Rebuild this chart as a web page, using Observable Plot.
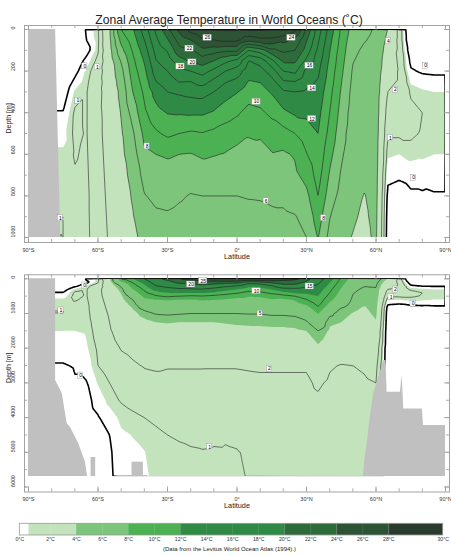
<!DOCTYPE html>
<html><head><meta charset="utf-8">
<script src="https://cdn.jsdelivr.net/npm/d3@7"></script>
<script src="https://cdn.jsdelivr.net/npm/@observablehq/plot@0.6"></script>
<style>
body{margin:0;background:#fff;font-family:"Liberation Sans",Arial,sans-serif;}
#chart{width:451px;height:556px;position:relative;overflow:hidden;background:#fff}
#chart svg{display:block}
</style></head><body><div id="chart"></div>
<script>
// ---------- data ----------
const depthLevels = [0,50,100,150,200,250,300,400,500,600,700,800,900,1000,1250,1500,2000,2500,3000,3500,4000,4500,5000,5700];
const latitudes = [-90,-85,-80,-75,-70,-65,-60,-55,-50,-45,-40,-35,-30,-25,-20,-15,-10,-5,0,5,10,15,20,25,30,35,40,45,50,55,60,65,70,75,80,85,90];

// temperature profiles (deg C) for each latitude, one value per depth level
const s90 = [-1.8,-1.8,-1.7,-1.5,-1.2,-0.8,-0.5,0.05,0.4,0.7,0.85,0.95,1.0,1.0,0.9,0.6,0.3,-0.05,-0.3,-0.4,-0.4,-0.4,-0.4,-0.4];
const s85 = [-1.8,-1.8,-1.7,-1.5,-1.2,-0.8,-0.5,0.05,0.4,0.7,0.85,0.95,1.0,1.0,0.9,0.6,0.3,-0.05,-0.3,-0.4,-0.4,-0.4,-0.4,-0.4];
const s80 = [-1.8,-1.8,-1.7,-1.5,-1.2,-0.8,-0.5,0.05,0.4,0.7,0.85,0.95,1.0,1.0,0.9,0.6,0.3,-0.05,-0.3,-0.4,-0.4,-0.4,-0.4,-0.4];
const s75 = [-1.8,-1.8,-1.7,-1.5,-1.2,-0.8,-0.5,0.05,0.4,0.7,0.85,0.95,1.0,1.0,0.9,0.6,0.3,-0.05,-0.3,-0.4,-0.4,-0.4,-0.4,-0.4];
const s70 = [-1.6,-1.5,-1.3,-0.8,-0.3,0.2,0.7,1.1,1.15,1.05,0.95,0.9,0.85,0.85,0.72,0.6,0.3,0.05,-0.05,-0.2,-0.3,-0.35,-0.4,-0.4];
const s65 = [0.15,0.0,-0.4,0.3,0.7,0.85,0.95,0.95,0.95,0.9,0.85,0.8,0.8,0.78,0.72,0.66,0.52,0.3,-0.05,-0.2,-0.3,-0.35,-0.35,-0.35];
const s60 = [0.9,0.85,0.9,1.2,1.5,1.65,1.75,1.8,1.8,1.75,1.7,1.65,1.6,1.55,1.4,1.3,1.1,1.0,0.65,0.25,-0.05,-0.2,-0.25,-0.25];
const s55 = [3.8,3.6,3.3,3.0,2.8,2.6,2.5,2.4,2.35,2.3,2.25,2.2,2.15,2.1,2.0,1.9,1.6,1.3,1.0,0.8,0.3,0.0,-0.1,-0.15];
const s50 = [10,8.6,7.4,6.2,5.4,4.9,4.5,4.1,3.8,3.6,3.4,3.25,3.1,3.0,2.7,2.45,2.05,1.7,1.35,1.05,0.75,0.5,0.4,0.35];
const s45 = [11.8,11.0,10.2,9.5,9.0,8.5,8.0,6.8,5.7,5.0,4.5,4.15,3.9,3.6,3.1,2.75,2.2,1.9,1.5,1.2,0.88,0.62,0.5,0.45];
const s40 = [15.0,14.0,13.0,12.2,11.5,10.9,10.4,9.6,8.5,7.7,6.7,5.9,5.1,4.5,3.6,3.1,2.5,2.05,1.75,1.35,1.0,0.78,0.58,0.5];
const s35 = [18.4,17.6,16.7,15.9,15.0,14.0,12.8,11.3,9.7,8.0,7.2,6.4,5.7,5.1,4.0,3.35,2.6,2.1,1.8,1.45,1.1,0.9,0.8,0.75];
const s30 = [21.5,19.8,18.2,17.0,16.0,15.0,14.0,12.1,10.4,8.2,7.3,6.5,5.8,5.2,4.1,3.4,2.55,2.05,1.8,1.5,1.2,1.0,0.85,0.8];
const s25 = [24.5,22.8,21.3,19.2,17.3,16.1,14.3,12.2,10.0,8.0,7.2,6.2,5.6,5.1,4.0,3.4,2.55,2.05,1.8,1.55,1.3,1.05,0.92,0.85];
const s20 = [26.8,24.0,21.6,20.3,18.0,16.0,14.6,12.3,9.7,7.9,6.7,5.9,5.4,5.0,4.0,3.4,2.55,2.05,1.8,1.55,1.35,1.1,0.95,0.88];
const s15 = [27.8,25.8,23.5,21.0,18.8,16.8,14.8,12.3,9.9,8.3,6.9,6.0,5.4,5.0,4.0,3.4,2.6,2.05,1.8,1.6,1.4,1.15,0.97,0.9];
const s10 = [28.2,26.0,23.0,20.0,17.5,15.5,14.0,11.8,9.5,8.1,7.0,6.0,5.5,5.0,4.0,3.4,2.6,2.05,1.78,1.55,1.35,1.1,0.95,0.9];
const s05 = [28.3,26.5,22.5,18.5,16.0,14.2,12.8,11.0,9.0,7.9,6.9,6.0,5.4,5.0,4.1,3.5,2.65,2.05,1.78,1.55,1.35,1.05,0.96,0.93];
const eq0 = [28.3,26.5,22.5,17.5,15.0,13.5,12.1,10.3,8.5,7.6,6.8,6.0,5.4,5.0,4.2,3.6,2.65,2.05,1.8,1.58,1.38,1.08,0.98,0.95];
const n05 = [28.4,24.8,18.0,14.0,12.8,11.9,11.0,9.3,8.1,7.6,7.0,6.1,5.5,5.05,4.25,3.65,2.7,2.08,1.82,1.6,1.42,1.2,1.05,1.02];
const n10 = [28.4,25.5,19.0,14.8,13.2,12.1,11.2,9.6,8.2,7.5,6.9,6.15,5.5,5.05,4.25,3.7,2.7,2.1,1.85,1.65,1.48,1.3,1.15,1.1];
const n15 = [28.2,25.5,21.5,17.5,15.0,13.3,12.2,10.5,8.8,7.9,7.2,6.3,5.7,5.2,4.3,3.75,2.7,2.1,1.85,1.65,1.5,1.4,1.3,1.2];
const n20 = [28.1,24.6,22.4,20.4,18.0,15.8,13.7,11.6,9.2,7.7,7.0,6.4,5.7,5.2,4.3,3.75,2.75,2.1,1.85,1.65,1.52,1.42,1.35,1.3];
const n25 = [26.5,23.5,22.0,20.4,18.5,16.0,14.0,12.3,10.0,8.2,7.6,6.8,5.9,5.3,4.4,3.8,2.8,2.1,1.85,1.68,1.55,1.45,1.38,1.33];
const n30 = [21.5,20.2,19.2,17.6,15.4,14.6,13.7,12.4,11.1,9.9,8.7,7.5,6.6,6.0,4.8,4.0,2.9,2.1,1.85,1.7,1.6,1.5,1.42,1.38];
const n35 = [17.0,16.3,15.6,15.0,14.4,13.8,13.3,12.6,12.0,11.4,10.8,10.0,9.0,8.1,6.6,5.0,3.7,2.6,2.15,1.85,1.7,1.6,1.5,1.45];
const n40 = [13.2,12.6,12.1,11.7,11.3,11.0,10.6,10.0,9.4,8.6,7.8,7.0,6.1,5.4,4.2,3.8,2.8,2.1,1.85,1.7,1.6,1.55,1.5,1.45];
const n45 = [9.7,9.3,9.0,8.7,8.4,8.1,7.8,7.3,6.8,6.3,5.8,5.3,4.6,4.3,4.0,3.7,2.7,1.95,1.7,1.6,1.5,1.45,1.4,1.4];
const n50 = [7.2,6.8,6.4,6.1,5.8,5.6,5.4,5.1,4.9,4.75,4.6,4.4,4.15,3.95,3.6,3.3,2.7,2.0,1.8,1.7,1.6,1.5,1.45,1.4];
const n55 = [6.4,6.1,5.7,5.4,5.1,4.9,4.7,4.55,4.45,4.4,4.2,3.95,3.8,3.65,3.3,3.05,2.6,2.1,1.9,1.75,1.6,1.5,1.45,1.4];
const n60 = [5.8,5.6,5.4,5.2,5.1,5.0,4.9,4.8,4.7,4.6,4.5,4.45,4.35,4.25,3.9,3.5,2.8,2.3,2.0,1.8,1.7,1.6,1.5,1.5];
const n65 = [4.0,3.6,3.2,2.9,2.6,2.3,2.0,1.5,1.1,0.7,0.2,-0.2,-0.4,-0.5,-0.6,-0.7,-0.8,-0.85,-0.9,-0.9,-0.9,-0.9,-0.9,-0.9];
const n70 = [1.6,1.6,1.7,1.8,1.9,1.9,1.8,1.5,1.1,0.6,0.1,-0.3,-0.5,-0.6,-0.7,-0.8,-0.9,-0.95,-1.0,-1.0,-1.0,-1.0,-1.0,-1.0];
const n75 = [-1.2,-1.0,-0.6,-0.2,0.1,0.5,0.9,1.2,1.1,0.8,0.2,-0.1,-0.4,-0.5,-0.7,-0.8,-0.9,-0.95,-1.0,-1.0,-1.0,-1.0,-1.0,-1.0];
const n80 = [-1.6,-1.5,-1.2,-0.6,-0.1,0.3,0.7,1.0,0.95,0.7,0.3,-0.1,-0.3,-0.4,-0.6,-0.7,-0.8,-0.85,-0.9,-0.9,-0.95,-0.95,-0.95,-0.95];
const n85 = [-1.7,-1.6,-1.3,-0.7,-0.15,0.25,0.6,0.85,0.8,0.6,0.2,-0.05,-0.25,-0.35,-0.55,-0.65,-0.75,-0.8,-0.85,-0.9,-0.9,-0.9,-0.9,-0.9];
const n90 = [-1.7,-1.6,-1.3,-0.7,-0.15,0.25,0.6,0.85,0.8,0.6,0.2,-0.05,-0.25,-0.35,-0.55,-0.65,-0.75,-0.8,-0.85,-0.9,-0.9,-0.9,-0.9,-0.9];

// colour classes (lower bounds) and colours, as in the labelbar
const fillThresholds = [0.6, 4, 8, 12, 20, 24, 28];
const fillColors = ["#ffffff","#c3e3bc","#7cc57a","#4cb153","#2e8a45","#2d6b3b","#2c5334","#293b2c"];
const legendTicks = [0,2,4,6,8,10,12,14,16,18,20,22,24,26,28,30];
const legendBounds = [0, 0.6, 4, 8, 12, 20, 24, 28, 30];

// contour levels drawn as lines
const topLineLevels = [1,2,4,6,8,10,12,14,16,18,20,22,24,26];
const bottomLineLevels = [1,2,5,10,15,20,25];

// land (grey) outlines
const topShelfDepth = [0, 1000];
const topShelfLat = [-78.3, -76.1];
const antarcticDepth = [0, 2930, 3315, 4180, 4275, 4755, 5285, 5700];
const antarcticLat = [-78.3, -78.3, -75.4, -73.3, -71.9, -68.3, -65.4, -64.5];
const northLat = [54.6, 55.2, 56.2, 57.5, 59, 61.2, 63.4, 64.3, 64.8, 70.5, 71.3, 72, 80, 80.5, 90];
const northDepth = [5700, 5200, 4755, 4000, 3315, 2835, 2355, 2355, 3270, 3270, 2790, 3750, 3750, 4230, 4230];
const seamountLat1 = [-63, -45.3];
const seamountLat2 = [-61, -40.4];
const seamountTop = [5150, 5285];

// contour labels
const topLabelLat = [-65.7,-60.3,-68.7,-76.2,-38.8,-12.7,-20.5,-19.3,-24.4,23.5,31.3,32.4,32.4,8.4,12.6,37.4,65.4,68.4,66.2,81.4,76.2];
const topLabelDepth = [177,182,343,907,562,40,92,158,178,40,174,283,430,348,826,907,56,290,522,174,713];
const topLabelText = ["0","1","1","1","8","26","22","20","18","24","16","14","12","10","6","8","4","2","1","0","0"];
const botLabelLat = [-65.8,-76,-67.5,-11.8,-19.8,-14.6,8.4,10,31.4,14,68.4,66.5,76];
const botLabelDepth = [193,913,2790,4850,164,68,357,1010,222,2590,310,530,715];
const botLabelText = ["0","1","0","1","20","25","10","5","15","2","2","1","0"];

const latTicks = [-90,-60,-30,0,30,60,90];
const latMinor = d3.range(-90, 91, 10);
const topDepthTicks = [0,200,400,600,800,1000];
const botDepthTicks = [0,1000,2000,3000,4000,5000,6000];

// ---------- build tables ----------
const profiles = [s90,s85,s80,s75,s70,s65,s60,s55,s50,s45,s40,s35,s30,s25,s20,s15,s10,s05,eq0,n05,n10,n15,n20,n25,n30,n35,n40,n45,n50,n55,n60,n65,n70,n75,n80,n85,n90];
const cells = [];
latitudes.forEach((lat, i) => depthLevels.forEach((depth, j) => cells.push({lat, depth, t: profiles[i][j]})));
const topCells = cells.filter(d => d.depth <= 1250);
const zip = (a, b, ka, kb) => a.map((v, i) => ({[ka]: v, [kb]: b[i]}));
const topShelf = zip(topShelfDepth, topShelfLat, "depth", "lat");
const antarctic = zip(antarcticDepth, antarcticLat, "depth", "lat");
const north = zip(northLat, northDepth, "lat", "depth");
const seamounts = seamountLat1.map((v, i) => ({a: v, b: seamountLat2[i], top: seamountTop[i]}));
const topLabels = topLabelLat.map((v, i) => ({lat: v, depth: topLabelDepth[i], text: topLabelText[i]}));
const botLabels = botLabelLat.map((v, i) => ({lat: v, depth: botLabelDepth[i], text: botLabelText[i]}));
const legendBoxes = legendBounds.slice(0, -1).map((lo, i) => ({lo, hi: legendBounds[i + 1]}));

const FONT = "Liberation Sans, Arial, Helvetica, sans-serif";
const LAND = "#c0c0c0";
const FRAME = "#9a9a9a";
const W = 417, H = 208;
const latFmt = d => d === 0 ? "0°" : `${Math.abs(d)}°${d < 0 ? "S" : "N"}`;

function frameMarks(yMinor, yMajor) {
  const k = {stroke: FRAME, strokeWidth: 0.8};
  return [
    Plot.frame({stroke: FRAME, strokeWidth: 0.9, insetTop: -4, insetBottom: -5, insetLeft: -4, insetRight: -4}),
    Plot.ruleX(latMinor, {x: d => d, insetTop: -4, insetBottom: H + 4 - 3, ...k}),
    Plot.ruleX(latMinor, {x: d => d, insetBottom: -5, insetTop: H + 5 - 3, ...k}),
    Plot.ruleX(latTicks, {x: d => d, insetTop: -4, insetBottom: H + 4 - 5, ...k}),
    Plot.ruleX(latTicks, {x: d => d, insetBottom: -5, insetTop: H + 5 - 5, ...k}),
    Plot.ruleY(yMinor, {y: d => d, insetLeft: -4, insetRight: W + 4 - 3, ...k}),
    Plot.ruleY(yMinor, {y: d => d, insetRight: -4, insetLeft: W + 4 - 3, ...k}),
    Plot.ruleY(yMajor, {y: d => d, insetLeft: -4, insetRight: W + 4 - 5, ...k}),
    Plot.ruleY(yMajor, {y: d => d, insetRight: -4, insetLeft: W + 4 - 5, ...k}),
    Plot.text(latTicks, {x: d => d, frameAnchor: "bottom", dy: 14, text: latFmt, fontSize: 5.5, fill: "#333"}),
    Plot.text(["Latitude"], {frameAnchor: "bottom", dy: 21.3, fontSize: 7.3, fill: "#222"}),
    Plot.text(yMajor, {y: d => d, frameAnchor: "left", dx: -15, rotate: -90, text: d => String(d), fontSize: 5.3, fill: "#333"}),
    Plot.text(["Depth [m]"], {frameAnchor: "left", dx: -20, rotate: -90, fontSize: 7, fill: "#222"})
  ];
}

function labelMarks(labels) {
  const box = (n, hw) => Plot.rect(labels.filter(d => d.text.length === n), {
    x1: "lat", x2: "lat", y1: "depth", y2: "depth",
    insetLeft: -hw, insetRight: -hw, insetTop: -3, insetBottom: -3,
    fill: "white", stroke: "#8a8a8a", strokeWidth: 0.4
  });
  return [
    box(1, 2.6), box(2, 4.2),
    Plot.text(labels, {x: "lat", y: "depth", text: "text", fontSize: 5, fill: "black"})
  ];
}

const common = {
  width: 451, marginLeft: 28, marginRight: 6,
  style: {background: "white", fontFamily: FONT},
  x: {domain: [-90, 90], axis: null},
  color: {type: "threshold", domain: fillThresholds, range: fillColors}
};

const topPlot = Plot.plot({
  ...common,
  height: 268, marginTop: 29, marginBottom: 31,
  y: {domain: [0, 1000], reverse: true, axis: null},
  marks: [
    Plot.contour(topCells, {x: "lat", y: "depth", fill: "t", thresholds: fillThresholds, interpolate: "barycentric", x1: -93, x2: 93, y1: -20, y2: 1020, pixelSize: 1, stroke: "none", clip: true}),
    Plot.contour(topCells, {x: "lat", y: "depth", value: "t", thresholds: topLineLevels, interpolate: "barycentric", x1: -93, x2: 93, y1: -20, y2: 1020, pixelSize: 1, fill: "none", stroke: "#222", strokeWidth: 0.6, clip: true}),
    Plot.contour(topCells, {x: "lat", y: "depth", value: "t", thresholds: [0], interpolate: "barycentric", x1: -93, x2: 93, y1: -20, y2: 1020, pixelSize: 1, fill: "none", stroke: "#000", strokeWidth: 1.6, clip: true}),
    Plot.areaX(topShelf, {y: "depth", x1: -90, x2: "lat", fill: LAND}),
    ...labelMarks(topLabels),
    ...frameMarks(d3.range(0, 1001, 100), topDepthTicks),
    Plot.text(["Zonal Average Temperature in World Oceans (˚C)"], {frameAnchor: "top", dy: -14, dx: -8, fontSize: 12.2, fill: "#222"})
  ]
});

const botPlot = Plot.plot({
  ...common,
  height: 244, marginTop: 10.3, marginBottom: 25.5,
  y: {domain: [0, 6000], reverse: true, axis: null},
  marks: [
    Plot.contour(cells, {x: "lat", y: "depth", fill: "t", thresholds: fillThresholds, interpolate: "barycentric", x1: -93, x2: 93, y1: -100, y2: 5700, pixelSize: 1, stroke: "none", clip: true}),
    Plot.contour(cells, {x: "lat", y: "depth", value: "t", thresholds: bottomLineLevels, interpolate: "barycentric", x1: -93, x2: 93, y1: -100, y2: 5850, pixelSize: 1, fill: "none", stroke: "#222", strokeWidth: 0.6, clip: true}),
    Plot.contour(cells, {x: "lat", y: "depth", value: "t", thresholds: [0], interpolate: "barycentric", x1: -93, x2: 93, y1: -100, y2: 5850, pixelSize: 1, fill: "none", stroke: "#000", strokeWidth: 1.6, clip: true}),
    Plot.rect([0], {x1: -91, x2: 91, y1: 5700, y2: 6000, fill: "white"}),
    Plot.areaX(antarctic, {y: "depth", x1: -90, x2: "lat", fill: LAND}),
    Plot.areaY(north, {x: "lat", y1: "depth", y2: 5700, fill: LAND}),
    Plot.rect(seamounts, {x1: "a", x2: "b", y1: "top", y2: 5700, fill: LAND}),
    ...labelMarks(botLabels),
    ...frameMarks(d3.range(0, 6001, 500), botDepthTicks)
  ]
});

const legendPlot = Plot.plot({
  width: 451, height: 44, marginTop: 11.3, marginBottom: 21, marginLeft: 0, marginRight: 0,
  style: {background: "white", fontFamily: FONT},
  x: {type: "linear", domain: [0, 2, 28, 30], range: [19.3, 50, 388.3, 442.7], axis: null},
  y: {domain: [0, 1], axis: null},
  color: {type: "threshold", domain: fillThresholds, range: fillColors},
  marks: [
    Plot.rect(legendBoxes, {x1: "lo", x2: "hi", y1: 0, y2: 1, fill: "lo"}),
    Plot.ruleX(legendTicks.slice(1, -1), {x: d => d, y1: 0, y2: 1, stroke: "white", strokeOpacity: 0.18, strokeWidth: 0.6}),
    Plot.rect([0], {x1: 0, x2: 30, y1: 0, y2: 1, fill: "none", stroke: "#999", strokeWidth: 0.8}),
    Plot.text(legendTicks, {x: d => d, frameAnchor: "bottom", dy: 5.2, text: d => `${d}°C`, fontSize: 5.2, fill: "#333"}),
    Plot.text(["(Data from the Levitus World Ocean Atlas (1994).)"], {frameAnchor: "bottom", dy: 15, dx: 3.5, fontSize: 6, fill: "#222"})
  ]
});

const root = document.getElementById("chart");
root.append(topPlot, botPlot, legendPlot);
</script></body></html>
